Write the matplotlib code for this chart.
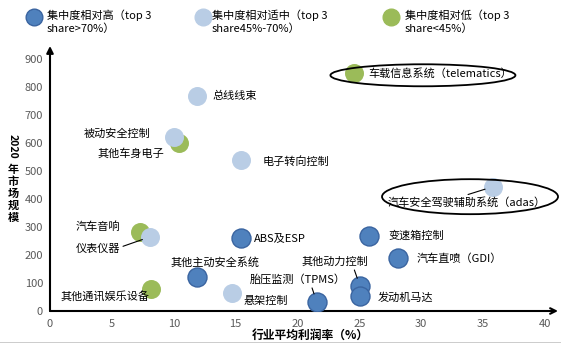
import matplotlib
matplotlib.use("Agg")
import matplotlib.pyplot as plt
from matplotlib.patches import Ellipse
from matplotlib.lines import Line2D

plt.rcParams['font.family'] = ['Noto Sans CJK SC', 'DejaVu Sans']

# data
high_names = ['其他主动安全系统', 'ABS及ESP', '变速箱控制', '汽车直喷（GDI）',
              '其他动力控制', '发动机马达', '胎压监测（TPMS）']
high_x = [11.9, 15.4, 25.8, 28.1, 25.05, 25.05, 21.55]
high_y = [121, 262, 269, 189, 89, 54, 33]

mid_names = ['总线线束', '被动安全控制', '电子转向控制', '汽车安全驾驶辅助系统（adas）',
             '仪表仪器', '悬架控制']
mid_x = [11.9, 10.0, 15.4, 35.8, 8.1, 14.7]
mid_y = [769, 622, 539, 444, 265, 63]

low_names = ['车载信息系统（telematics）', '其他车身电子', '汽车音响', '其他通讯娱乐设备']
low_x = [24.6, 10.4, 7.3, 8.2]
low_y = [849, 599, 281, 79]

legend_labels = ['集中度相对高（top 3\nshare>70%）',
                 '集中度相对适中（top 3\nshare45%-70%）',
                 '集中度相对低（top 3\nshare<45%）']

c_high, c_mid, c_low = '#4F81BD', '#B9CDE5', '#9BBB59'

# label offsets in pixels (dx, dy down), alignment, leader line start
labels = {
    '其他主动安全系统': (17.5, -15, 'center', None),
    'ABS及ESP': (13, 0, 'left', None),
    '变速箱控制': (19, 0, 'left', None),
    '汽车直喷（GDI）': (19, 1, 'left', None),
    '其他动力控制': (-58, -24, 'left', (0.77, 0)),
    '发动机马达': (18, 2, 'left', None),
    '胎压监测（TPMS）': (-67, -22, 'left', (0.64, 0)),
    '总线线束': (15.5, 0, 'left', None),
    '被动安全控制': (-23, -3, 'right', None),
    '电子转向控制': (22, 1, 'left', None),
    '汽车安全驾驶辅助系统（adas）': (-105, 16, 'left', (0.45, 1)),
    '仪表仪器': (-30, 12, 'right', (1.0, 0.65)),
    '悬架控制': (12, 7.5, 'left', None),
    '车载信息系统（telematics）': (14, 0.5, 'left', None),
    '其他车身电子': (-14, 10.5, 'right', None),
    '汽车音响': (-20, -6, 'right', None),
    '其他通讯娱乐设备': (-1.5, 7, 'right', None),
}

W, H = 561, 343
fig = plt.figure(figsize=(W / 100, H / 100), dpi=100)
ax = fig.add_axes([50 / W, (H - 311) / H, 508 / W, 265 / H])
ax.set_xlim(0, 508 / 12.375)
ax.set_ylim(0, 265 / 0.28)

ms = 187
ax.scatter(low_x, low_y, s=ms, color=c_low, zorder=3, linewidths=0)
ax.scatter(mid_x, mid_y, s=ms, color=c_mid, zorder=3, linewidths=0)
ax.scatter(high_x, high_y, s=ms, color=c_high, edgecolors='#3A64A0',
           linewidths=1, zorder=4)

k = 0.72
for names, xs, ys in [(high_names, high_x, high_y), (mid_names, mid_x, mid_y),
                      (low_names, low_x, low_y)]:
    for n, x, y in zip(names, xs, ys):
        dx, dy, ha, rel = labels[n]
        kw = {}
        if rel is not None:
            kw['arrowprops'] = dict(arrowstyle='-', color='black', lw=0.8,
                                    relpos=rel, shrinkA=0, shrinkB=6)
        ax.annotate(n, (x, y), xytext=(dx * k, -dy * k), textcoords='offset points',
                    ha=ha, va='center', fontsize=8, color='black', zorder=5, **kw)

# ellipses round the two highlighted labels
tx, ty = low_x[0], low_y[0]
ax.add_patch(Ellipse((tx + 68.5 / 12.375, ty - 2 / 0.28), 185 / 12.375, 22 / 0.28,
                     fill=False, edgecolor='black', lw=1.3, zorder=6))
axx, axy = mid_x[3], mid_y[3]
ax.add_patch(Ellipse((axx - 23 / 12.375, axy - 10 / 0.28), 176 / 12.375, 35 / 0.28,
                     fill=False, edgecolor='black', lw=1.3, zorder=6, clip_on=False))

# axes with arrow heads
for s in ax.spines.values():
    s.set_visible(False)
ax.annotate('', xy=(1, 0), xytext=(0, 0), xycoords='axes fraction',
            arrowprops=dict(arrowstyle='->', lw=1.5, color='black',
                            shrinkA=0, shrinkB=0))
ax.annotate('', xy=(0, 1), xytext=(0, 0), xycoords='axes fraction',
            arrowprops=dict(arrowstyle='-|>', lw=1.5, color='black',
                            shrinkA=0, shrinkB=0))

ax.set_xticks(range(0, 41, 5))
ax.set_yticks(range(0, 901, 100))
ax.tick_params(length=0, labelsize=8, labelcolor='#595959')
ax.tick_params(axis='x', pad=6)
ax.tick_params(axis='y', pad=5)

ax.text(260 / 508, -24 / 265, '行业平均利润率（%）', transform=ax.transAxes,
        ha='center', va='center', fontsize=8.5, fontweight='bold')

# stacked vertical y label
fig.text(13 / W, 1 - 146 / H, '2020', rotation=-90, ha='center', va='center',
         fontsize=7.5, fontweight='bold')
fig.text(13 / W, 1 - 193 / H, '年\n市\n场\n规\n模', ha='center', va='center',
         fontsize=8, fontweight='bold', linespacing=0.9)

# legend drawn by hand
leg_marker_x = [34, 203, 391]
leg_text_x = [47, 212, 405]
for lx, tx_, lab, col, ec in zip(leg_marker_x, leg_text_x, legend_labels,
                                 [c_high, c_mid, c_low], ['#3A64A0', c_mid, c_low]):
    fig.add_artist(Line2D([lx / W], [1 - 17 / H], marker='o', markersize=12,
                          markerfacecolor=col, markeredgecolor=ec, linestyle='none',
                          transform=fig.transFigure))
    fig.text(tx_ / W, 1 - 9 / H, lab, ha='left', va='top', fontsize=8,
             linespacing=1.35)

fig.add_artist(Line2D([0, 1], [0.5 / H, 0.5 / H], color='black', lw=1,
                      transform=fig.transFigure))

fig.savefig('out.png', dpi=100)
